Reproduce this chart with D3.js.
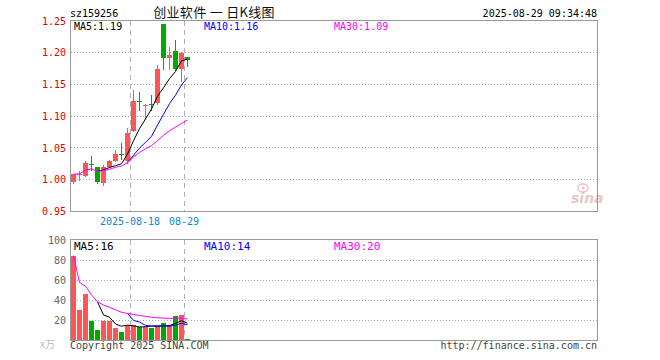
<!DOCTYPE html>
<html>
<head>
<meta charset="utf-8">
<script src="https://cdn.jsdelivr.net/npm/d3@7/dist/d3.min.js"></script>
<style>
  body { margin: 0; background: #fff; }
  text { font-family: "DejaVu Sans Mono", monospace; font-size: 10px; }
</style>
</head>
<body>
<div id="chart"></div>
<script>
// trading days shown (fund listed 2025-08-04)
const dates = ['2025-08-04', '2025-08-05', '2025-08-06', '2025-08-07', '2025-08-08',
  '2025-08-11', '2025-08-12', '2025-08-13', '2025-08-14', '2025-08-15',
  '2025-08-18', '2025-08-19', '2025-08-20', '2025-08-21', '2025-08-22',
  '2025-08-25', '2025-08-26', '2025-08-27', '2025-08-28', '2025-08-29'];
const openP = [0.995, 1.008, 1.006, 1.024, 1.019, 0.995, 1.019, 1.029, 1.039, 1.029,
  1.077, 1.124, 1.116, 1.118, 1.121, 1.244, 1.190, 1.202, 1.174, 1.192];
const highP = [1.009, 1.013, 1.028, 1.036, 1.020, 1.022, 1.031, 1.046, 1.057, 1.080,
  1.140, 1.137, 1.119, 1.133, 1.180, 1.245, 1.209, 1.219, 1.200, 1.193];
const lowP = [0.993, 0.998, 1.003, 1.013, 0.992, 0.990, 1.017, 1.027, 1.030, 1.024,
  1.075, 1.108, 1.093, 1.107, 1.117, 1.172, 1.172, 1.171, 1.153, 1.177];
const closeP = [1.008, 1.009, 1.026, 1.023, 0.996, 1.020, 1.028, 1.040, 1.038, 1.073,
  1.124, 1.123, 1.117, 1.116, 1.174, 1.190, 1.195, 1.174, 1.199, 1.188];
const volume = [84.5, 30.5, 46, 19.5, 10.5, 18.5, 19.5, 12, 8.5, 15.5,
  15.5, 13.5, 13.5, 12, 14, 17.5, 15.5, 24, 25.5, 1.2];

const ma5 = [null, null, null, null, 1.0124, 1.0148, 1.0186, 1.0214, 1.0244, 1.0398,
  1.0606, 1.0796, 1.095, 1.1106, 1.1308, 1.144, 1.1584, 1.1698, 1.1864, 1.1892];
const ma10 = [null, null, null, null, null, null, null, null, null, 1.0261,
  1.0377, 1.0491, 1.0582, 1.0675, 1.0853, 1.1023, 1.119, 1.1324, 1.1485, 1.160];
const ma30 = [1.008, 1.0085, 1.0143, 1.0165, 1.0124, 1.0137, 1.0157, 1.0188, 1.0209, 1.0261,
  1.035, 1.0423, 1.048, 1.053, 1.061, 1.069, 1.0765, 1.082, 1.088, 1.093];
const volMa5 = [null, null, null, null, 38.2, 25, 22.8, 16, 13.8, 14.8,
  14.2, 13, 13.3, 14, 13.7, 14.1, 14.5, 16.6, 19.3, 16.7];
const volMa10 = [null, null, null, null, null, null, null, null, null, 26.5,
  19.6, 17.9, 14.65, 13.9, 14.25, 14.15, 13.75, 14.95, 16.65, 15.2];
const volMa30 = [84.5, 57.5, 53.7, 45.1, 38.2, 34.9, 32.7, 30.1, 27.7, 26.5,
  25.5, 24.5, 23.7, 22.8, 22.2, 21.9, 21.6, 21.7, 21.9, 20.9];

const priceTicks = [0.95, 1.00, 1.05, 1.10, 1.15, 1.20, 1.25];
const volTicks = [20, 40, 60, 80, 100];
const markDates = ['2025-08-18', '2025-08-29'];
const markLabels = ['2025-08-18', '08-29'];

const RED = '#ff5555', GREEN = '#00a800';
const W = 660, H = 360;
const left = 70.5, right = 597.5;

const svg = d3.select('#chart').append('svg')
  .attr('width', W).attr('height', H);

// 88 slots of 6px across the plot, only the first 20 used
const x = d3.scaleLinear().domain([0, 88]).range([71, 599]);
const idx = d => dates.indexOf(d);
const cx = i => x(i) + 2.5;

const y = d3.scaleLinear().domain([0.95, 1.25]).range([211, 20.5]);
const yv = d3.scaleLinear().domain([0, 100]).range([340, 240]);

// header
svg.append('text').attr('x', 70).attr('y', 17).attr('fill', '#000').text('sz159256');
svg.append('text').attr('x', 214).attr('y', 17).attr('text-anchor', 'middle')
  .style('font-family', '"Noto Sans CJK SC", sans-serif').style('font-size', '13px')
  .style('letter-spacing', '0.3px').attr('fill', '#111')
  .text('创业软件 一 日K线图');
svg.append('text').attr('x', 597).attr('y', 17).attr('text-anchor', 'end')
  .attr('fill', '#000').text('2025-08-29 09:34:48');

function panel(top, bottom, gridYs) {
  const g = svg.append('g').attr('shape-rendering', 'crispEdges');
  gridYs.forEach(yy => {
    g.append('line').attr('x1', left).attr('x2', right).attr('y1', yy).attr('y2', yy)
      .attr('stroke', '#aaa').attr('stroke-dasharray', '1,2');
  });
  markDates.forEach(d => {
    const xx = x(idx(d)) - 0.5;
    g.append('line').attr('x1', xx).attr('x2', xx).attr('y1', top).attr('y2', bottom)
      .attr('stroke', '#b0b0b0').attr('stroke-dasharray', '5,4');
  });
  g.append('rect').attr('x', left).attr('y', top)
    .attr('width', right - left).attr('height', bottom - top)
    .attr('fill', 'none').attr('stroke', '#999');
}

panel(20.5, 211.5, priceTicks.slice(1, -1).map(v => Math.round(y(v)) + 0.5));
panel(239.5, 340.5, volTicks.slice(0, -1).map(v => Math.round(yv(v)) + 0.5));

// price axis labels
svg.append('g').selectAll('text').data(priceTicks).join('text')
  .attr('x', 66).attr('y', d => y(d) + 4).attr('text-anchor', 'end')
  .attr('fill', '#e00000').text(d => d.toFixed(2));

// volume axis labels
svg.append('g').selectAll('text').data(volTicks).join('text')
  .attr('x', 66).attr('y', d => yv(d) + 4).attr('text-anchor', 'end')
  .attr('fill', '#666').text(d => d);
svg.append('text').attr('x', 40).attr('y', 348).attr('fill', '#bbb')
  .style('font-family', '"Noto Sans CJK SC", sans-serif').text('x万');

// date labels
markDates.forEach((d, k) => {
  svg.append('text').attr('x', x(idx(d)) - 1).attr('y', 225).attr('text-anchor', 'middle')
    .attr('fill', '#0a88d0').text(markLabels[k]);
});

// sina watermark
const wm = svg.append('g').attr('opacity', 0.35);
wm.append('ellipse').attr('cx', 583).attr('cy', 188).attr('rx', 5).attr('ry', 4)
  .attr('fill', 'none').attr('stroke', '#e05050').attr('stroke-width', 1.5);
wm.append('circle').attr('cx', 583).attr('cy', 188).attr('r', 1.5).attr('fill', '#e05050');
wm.append('text').attr('x', 571).attr('y', 203)
  .style('font-family', '"DejaVu Sans", sans-serif').style('font-size', '14px')
  .style('font-style', 'italic').style('font-weight', 'bold')
  .attr('fill', '#c06060').text('sina');

// candles
const isUp = i => closeP[i] >= openP[i];
const candles = svg.append('g').attr('shape-rendering', 'crispEdges')
  .selectAll('g').data(dates).join('g');
candles.append('rect')
  .attr('x', (d, i) => x(i) + 2).attr('width', 1)
  .attr('y', (d, i) => Math.round(y(highP[i])))
  .attr('height', (d, i) => Math.max(1, Math.round(y(lowP[i])) - Math.round(y(highP[i]))))
  .attr('fill', (d, i) => isUp(i) ? RED : GREEN);
candles.append('rect')
  .attr('x', (d, i) => x(i)).attr('width', 5)
  .attr('y', (d, i) => Math.round(y(Math.max(openP[i], closeP[i]))))
  .attr('height', (d, i) => Math.max(1, Math.round(Math.abs(y(openP[i]) - y(closeP[i])))))
  .attr('fill', (d, i) => isUp(i) ? RED : GREEN);

// volume bars
svg.append('g').attr('shape-rendering', 'crispEdges')
  .selectAll('rect').data(volume).join('rect')
  .attr('x', (d, i) => x(i)).attr('width', 5)
  .attr('y', d => Math.round(yv(d)))
  .attr('height', d => Math.max(1, 340 - Math.round(yv(d))))
  .attr('fill', (d, i) => isUp(i) ? RED : GREEN);

function maLine(values, scale, color) {
  const line = d3.line()
    .defined(d => d != null)
    .x((d, i) => cx(i))
    .y(d => scale(d));
  svg.append('path').datum(values)
    .attr('fill', 'none').attr('stroke', color).attr('stroke-width', 1)
    .attr('d', line);
}

maLine(ma5, y, '#000');
maLine(ma10, y, '#0000ff');
maLine(ma30, y, '#ff00ff');
maLine(volMa5, yv, '#000');
maLine(volMa10, yv, '#0000ff');
maLine(volMa30, yv, '#ff00ff');

// MA legends
function legend(yy, size, items) {
  items.forEach(it => {
    svg.append('text').attr('x', it.x).attr('y', yy).attr('fill', it.color)
      .style('font-size', size).text(it.label);
  });
}
legend(30, '10px', [
  { x: 74, color: '#000', label: 'MA5:1.19' },
  { x: 204, color: '#0000ff', label: 'MA10:1.16' },
  { x: 334, color: '#ff00ff', label: 'MA30:1.09' }
]);
legend(250, '11px', [
  { x: 74, color: '#000', label: 'MA5:16' },
  { x: 204, color: '#0000ff', label: 'MA10:14' },
  { x: 334, color: '#ff00ff', label: 'MA30:20' }
]);

// footer
svg.append('text').attr('x', 70).attr('y', 349).attr('fill', '#444').text('Copyright 2025 SINA.COM');
svg.append('text').attr('x', 597).attr('y', 349).attr('text-anchor', 'end')
  .attr('fill', '#444').text('http://finance.sina.com.cn');
</script>
</body>
</html>
